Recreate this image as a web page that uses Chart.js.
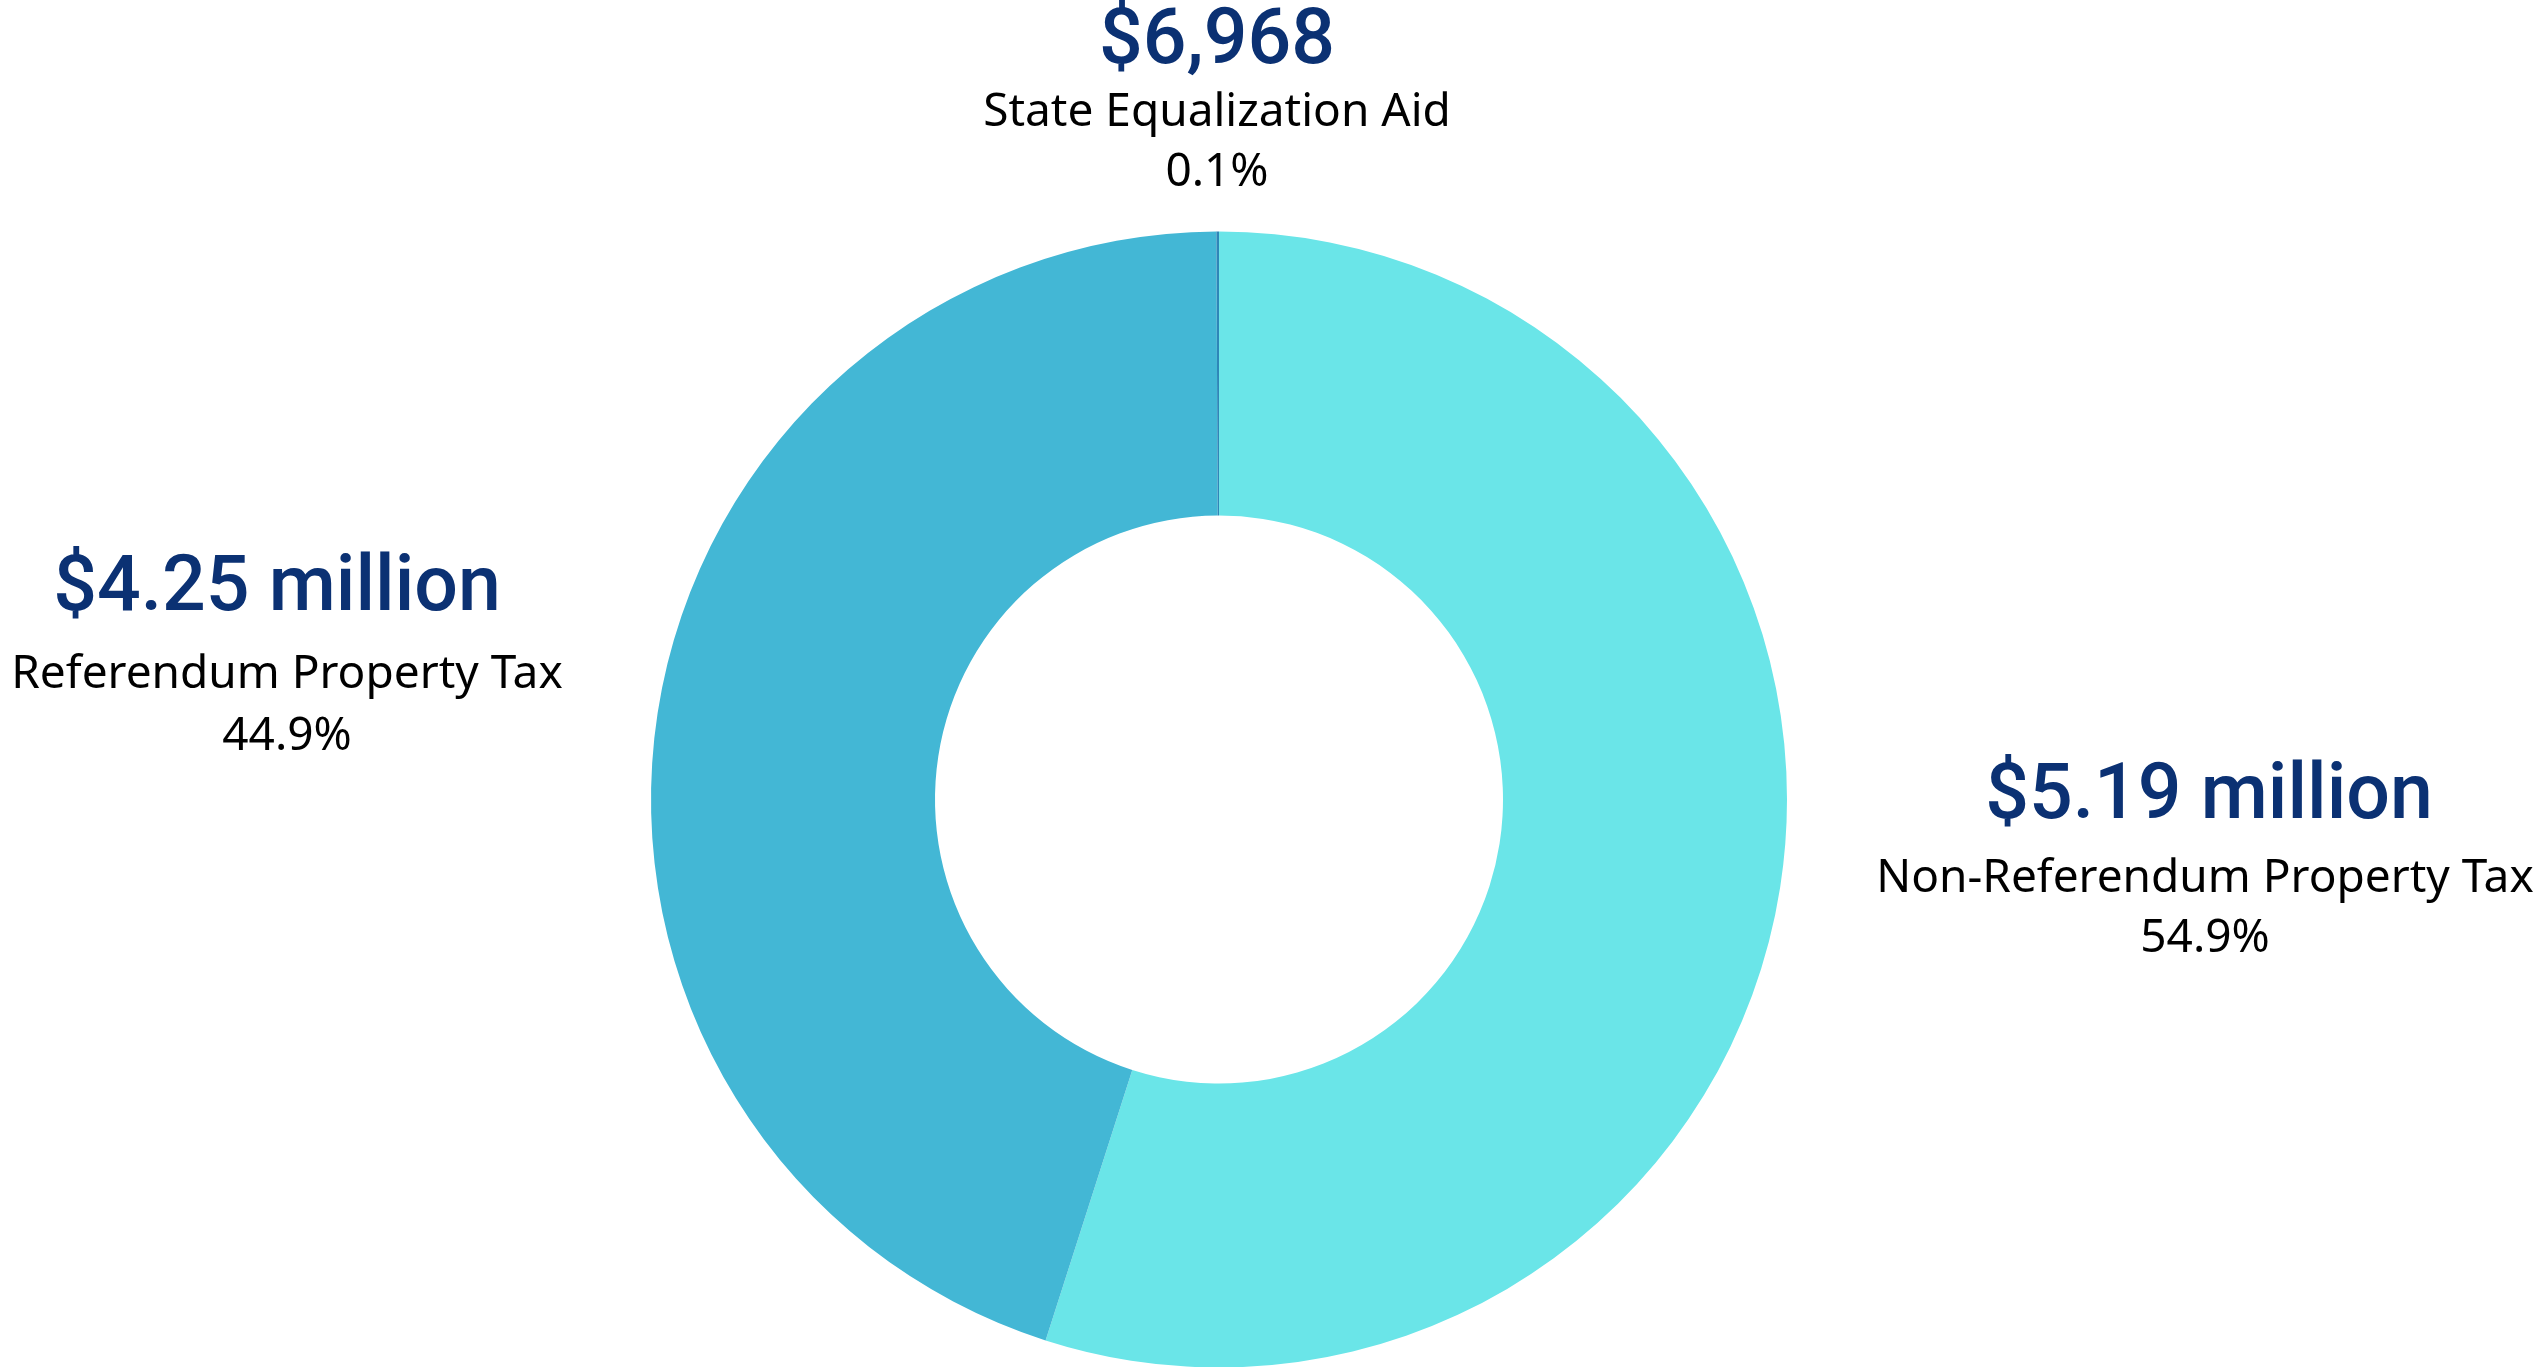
<!DOCTYPE html>
<html>
<head>
<meta charset="utf-8">
<script src="https://cdn.jsdelivr.net/npm/chart.js@4/dist/chart.umd.min.js"></script>
<style>
  html, body { margin: 0; padding: 0; background: #ffffff; overflow: hidden; }
  #wrap { position: relative; width: 2539px; height: 1367px; }
  canvas { display: block; }
</style>
</head>
<body>
<div id="wrap"><canvas id="c" width="2539" height="1367"></canvas></div>
<script>
// ---- data ----
const categories = ["Non-Referendum Property Tax", "Referendum Property Tax", "State Equalization Aid"];
const amounts = [5190000, 4250000, 6968];
const amountLabels = ["$5.19 million", "$4.25 million", "$6,968"];
const percentLabels = ["54.9%", "44.9%", "0.1%"];
const sliceColors = ["#6ae5e8", "#43b7d5", "#2e86b8"];

// ---- label layout (offsets from donut centre, in px) ----
const labelLayout = [
  { dx: 986, hdx: 4, headBase: 18, subBase: 92, pctBase: 152 },
  { dx: -932, hdx: -10, headBase: -190, subBase: -112, pctBase: -50 },
  { dx: -2, hdx: 0, headBase: -737, subBase: -674, pctBase: -614 }
];

const labelPlugin = {
  id: 'sliceLabels',
  afterDraw(chart) {
    const meta = chart.getDatasetMeta(0);
    const arc = meta.data[0];
    const cx = arc.x, cy = arc.y;
    const ctx = chart.ctx;
    ctx.save();
    ctx.textAlign = 'center';
    ctx.textBaseline = 'alphabetic';
    categories.forEach((cat, i) => {
      const L = labelLayout[i];
      const x = cx + L.dx;
      ctx.fillStyle = '#0b3173';
      ctx.font = '500 77px Roboto';
      ctx.fillText(amountLabels[i], x + L.hdx, cy + L.headBase);
      ctx.fillStyle = '#000000';
      ctx.font = '400 46px "Noto Sans"';
      ctx.fillText(cat, x, cy + L.subBase);
      ctx.fillText(percentLabels[i], x, cy + L.pctBase);
    });
    ctx.restore();
  }
};

new Chart(document.getElementById('c'), {
  type: 'doughnut',
  data: {
    labels: categories,
    datasets: [{
      data: amounts,
      backgroundColor: sliceColors,
      borderWidth: 0,
      hoverOffset: 0
    }]
  },
  options: {
    responsive: false,
    animation: false,
    radius: 568,
    cutout: '50%',
    rotation: 0,
    layout: { padding: { top: 232, bottom: 0, left: 651, right: 752 } },
    plugins: { legend: { display: false }, tooltip: { enabled: false } }
  },
  plugins: [labelPlugin]
});
</script>
</body>
</html>
